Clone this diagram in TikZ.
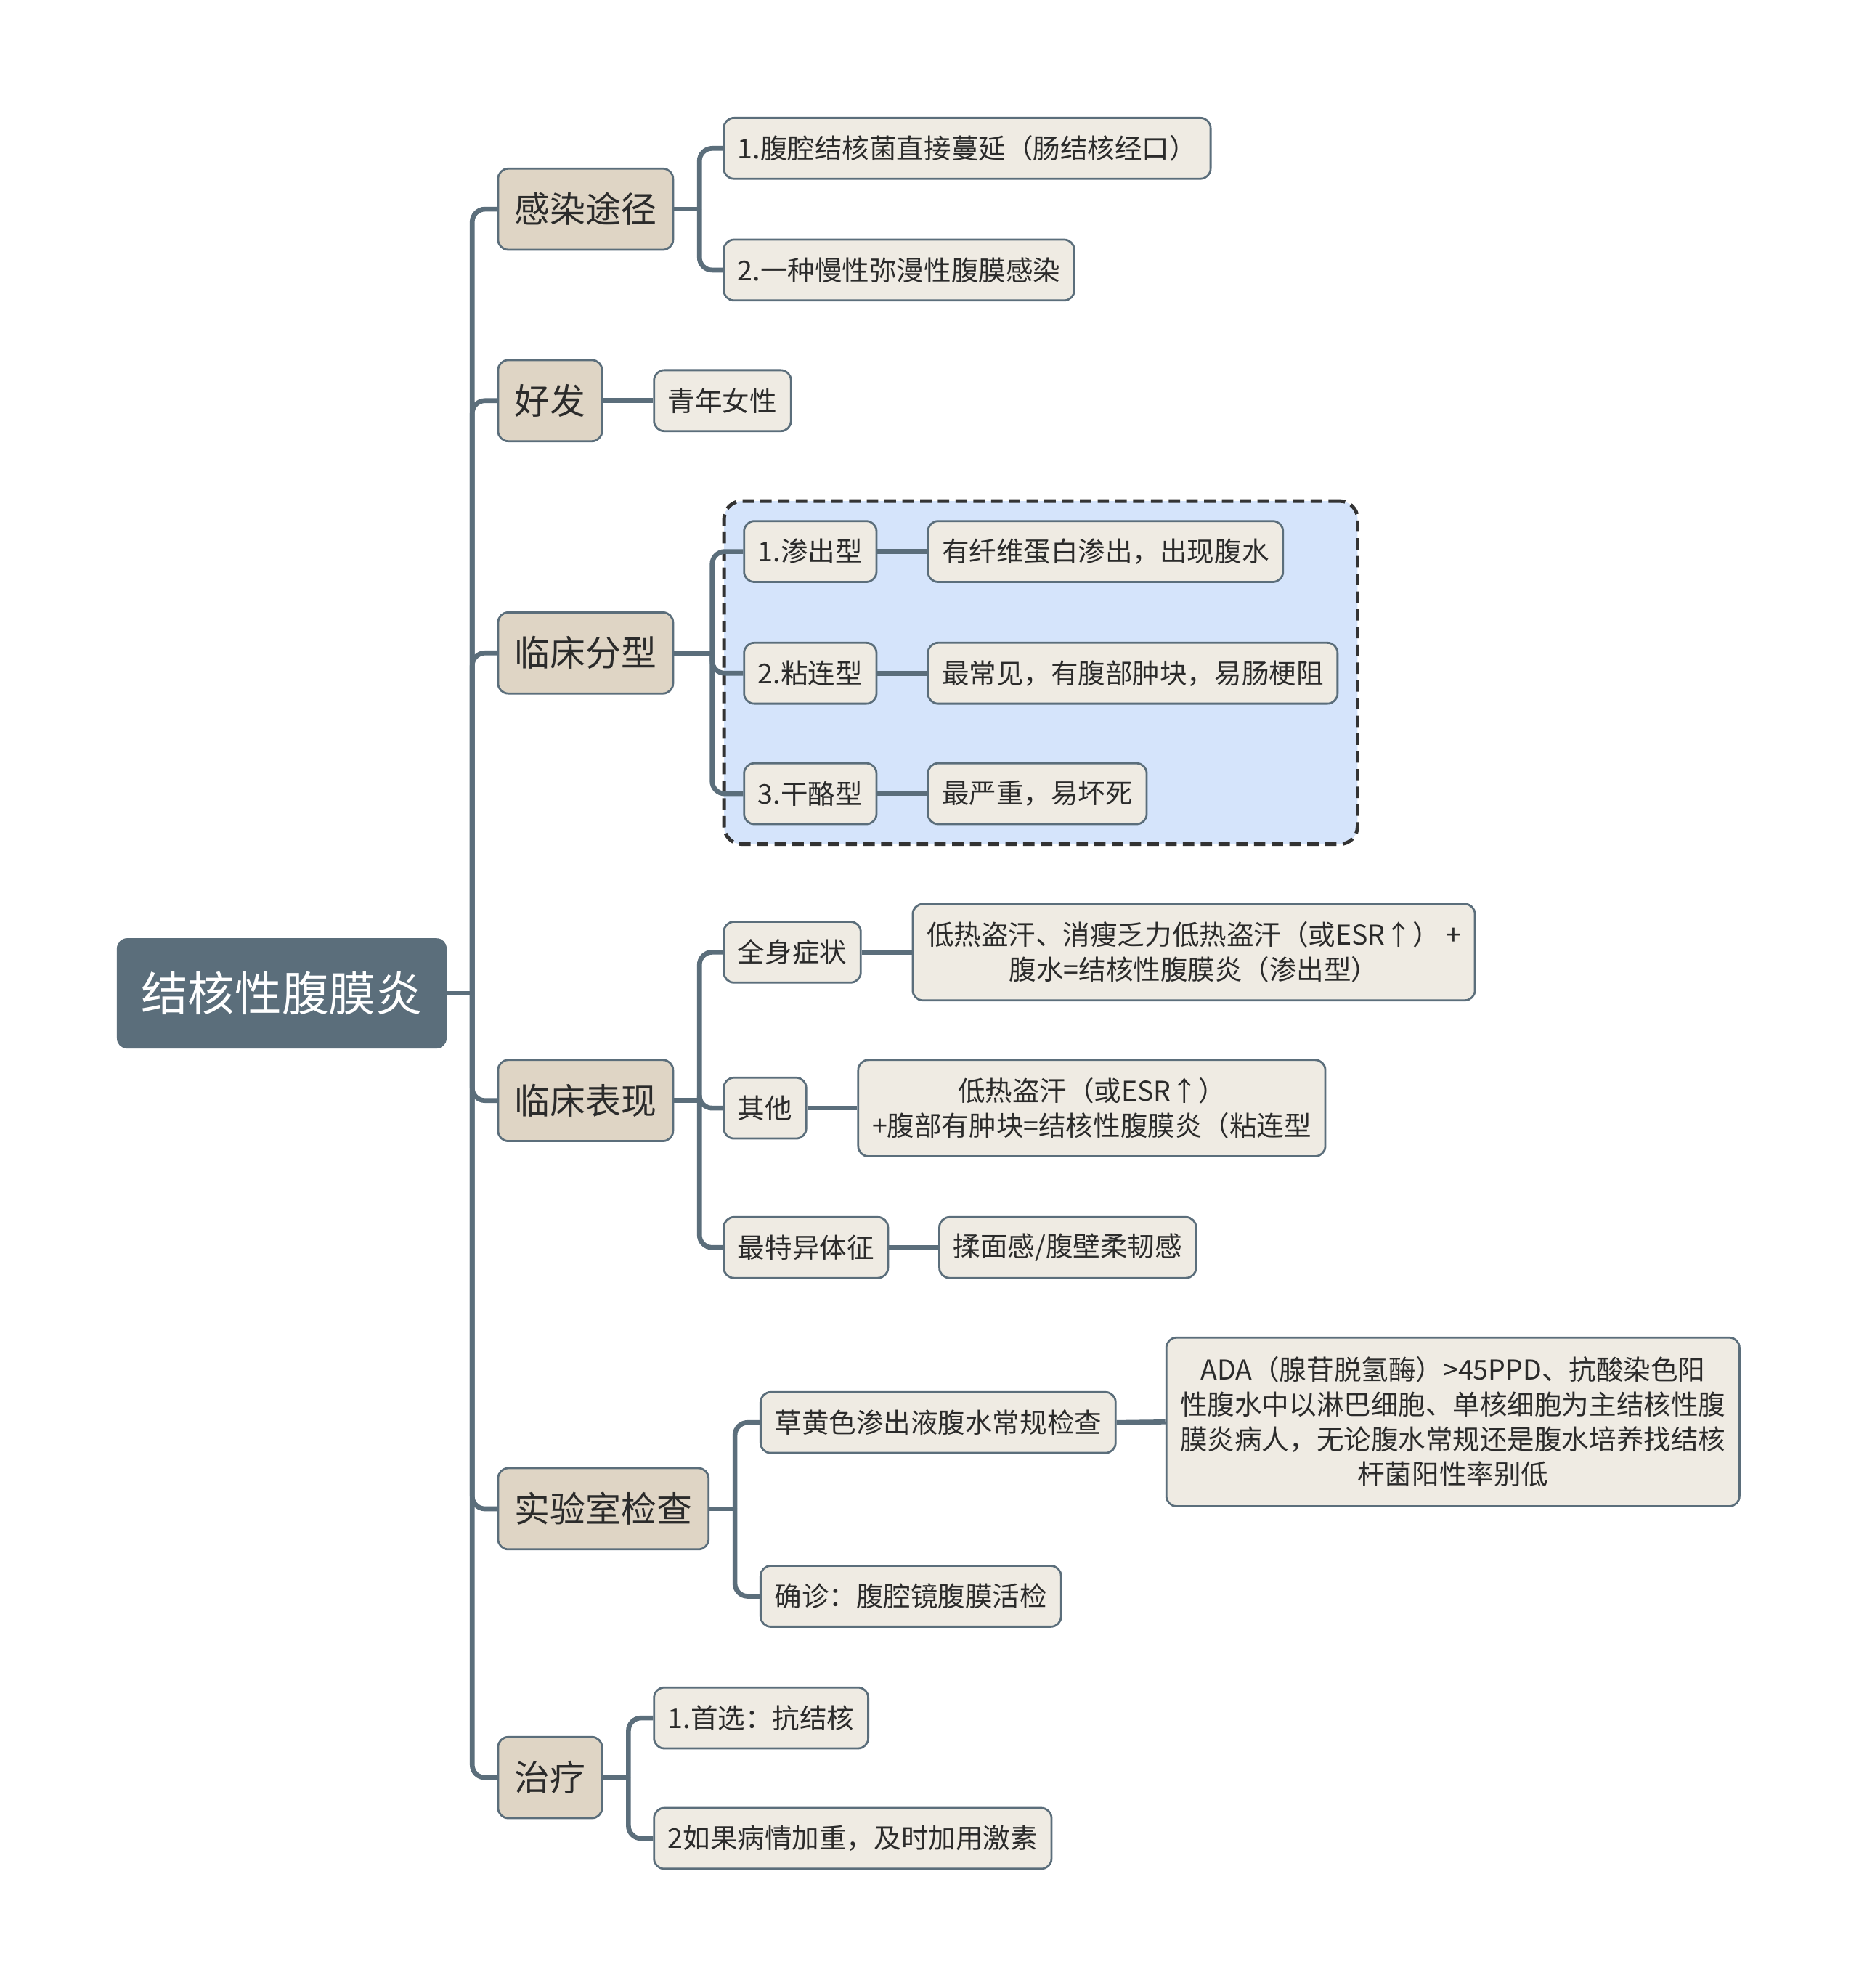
\documentclass[tikz,border=0pt]{standalone}
\usepackage{fontspec}
\newfontfamily\cjk{Noto Sans CJK SC}
\usetikzlibrary{fit,backgrounds}
\definecolor{slate}{HTML}{5B6E7B}
\definecolor{sand}{HTML}{DFD5C5}
\definecolor{paper}{HTML}{EFEBE3}
\definecolor{sky}{HTML}{D5E4FB}
\definecolor{ink}{HTML}{2B2B2B}

\begin{document}
\begin{tikzpicture}[
  x=1pt, y=-1pt,
  every node/.style={rounded corners=8pt, align=center, text=ink, font=\cjk, inner ysep=0pt, anchor=west},
  root/.style={fill=slate, text=white, minimum height=87pt, inner xsep=19pt, font=\cjk\fontsize{37}{44}\selectfont},
  branch/.style={draw=slate, line width=1.6pt, fill=sand, minimum height=64pt, inner xsep=13pt, font=\cjk\fontsize{28}{34}\selectfont},
  leaf/.style={draw=slate, line width=1.6pt, fill=paper, minimum height=48pt, inner xsep=11pt, font=\cjk\fontsize{21.5}{27.5}\selectfont},
  link/.style={draw=slate, line width=3.8pt, rounded corners=10pt},
  groupbox/.style={draw=black!80, fill=sky, dash pattern=on 9pt off 5pt, line width=2.8pt, rounded corners=14pt, inner sep=15pt}
]
\useasboundingbox (0,0) rectangle (1466,1568);

% root and main branches
\node[root] (r) at (92,783.5) {结核性腹膜炎};
\node[branch] (k1) at (392,165) {感染途径};
\node[branch] (k2) at (392,316) {好发};
\node[branch] (k3) at (392,515) {临床分型};
\node[branch] (k4) at (392,868) {临床表现};
\node[branch] (k5) at (392,1190) {实验室检查};
\node[branch] (k6) at (392,1402) {治疗};

% leaves
\node[leaf] (a1) at (570,117) {1.腹腔结核菌直接蔓延（肠结核经口）};
\node[leaf] (a2) at (570,213) {2.一种慢性弥漫性腹膜感染};
\node[leaf] (b1) at (515,316) {青年女性};
\node[leaf] (c1) at (586,435) {1.渗出型};
\node[leaf] (c2) at (586,531) {2.粘连型};
\node[leaf] (c3) at (586,626) {3.干酪型};
\node[leaf] (c11) at (731,435) {有纤维蛋白渗出，出现腹水};
\node[leaf] (c21) at (731,531) {最常见，有腹部肿块，易肠梗阻};
\node[leaf] (c31) at (731,626) {最严重，易坏死};
\node[leaf] (d1) at (570,751) {全身症状};
\node[leaf] (d2) at (570,874) {其他};
\node[leaf] (d3) at (570,984) {最特异体征};
\node[leaf, minimum height=76pt] (d11) at (719,751) {低热盗汗、消瘦乏力低热盗汗（或ESR↑） +\\腹水=结核性腹膜炎（渗出型）};
\node[leaf, minimum height=76pt] (d21) at (676,874) {低热盗汗（或ESR↑）\\+腹部有肿块=结核性腹膜炎（粘连型};
\node[leaf] (d31) at (740,984) {揉面感/腹壁柔韧感};
\node[leaf] (e1) at (599,1122) {草黄色渗出液腹水常规检查};
\node[leaf] (e2) at (599,1259) {确诊：腹腔镜腹膜活检};
\node[leaf, minimum height=133pt] (e11) at (919,1121.5) {ADA（腺苷脱氢酶）>45PPD、抗酸染色阳\\性腹水中以淋巴细胞、单核细胞为主结核性腹\\膜炎病人，无论腹水常规还是腹水培养找结核\\杆菌阳性率别低};
\node[leaf] (f1) at (515,1355) {1.首选：抗结核};
\node[leaf] (f2) at (515,1450) {2如果病情加重，及时加用激素};

\begin{scope}[on background layer]
\fill[white] (0,0) rectangle (1466,1568);
\node[groupbox, fit=(c1)(c3)(c21)] (grp) {};
\end{scope}

% connectors
\coordinate (tk) at ([xshift=20pt]r.east);
\draw[link] (r.east) -- (tk);
\foreach \k in {k1,k2,k3,k4,k5,k6} \draw[link] (tk) |- (\k.west);

\coordinate (t1) at ([xshift=20pt]k1.east);
\draw[link] (k1.east) -- (t1);
\foreach \c in {a1,a2} \draw[link] (t1) |- (\c.west);

\draw[link] (k2.east) -- (b1.west);

\coordinate (t3) at ([xshift=30pt]k3.east);
\draw[link] (k3.east) -- (t3);
\foreach \c in {c1,c2,c3} {
  \draw[link] (t3) |- (\c.west);
  \draw[link] (\c.east) -- (\c1.west);
}

\coordinate (t4) at ([xshift=20pt]k4.east);
\draw[link] (k4.east) -- (t4);
\foreach \c in {d1,d2,d3} {
  \draw[link] (t4) |- (\c.west);
  \draw[link] (\c.east) -- (\c1.west);
}

\coordinate (t5) at ([xshift=20pt]k5.east);
\draw[link] (k5.east) -- (t5);
\foreach \c in {e1,e2} \draw[link] (t5) |- (\c.west);
\draw[link] (e1.east) -- (e11.west);

\coordinate (t6) at ([xshift=20pt]k6.east);
\draw[link] (k6.east) -- (t6);
\foreach \c in {f1,f2} \draw[link] (t6) |- (\c.west);
\end{tikzpicture}
\end{document}
